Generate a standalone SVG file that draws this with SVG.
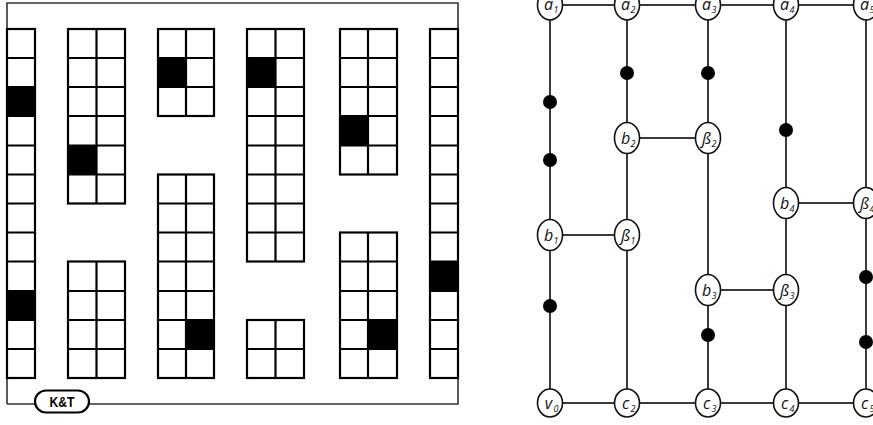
<svg xmlns="http://www.w3.org/2000/svg" width="873" height="425" viewBox="0 0 873 425">
<style>
.frame{fill:none;stroke:#333;stroke-width:1.6}
.blk{fill:none;stroke:#000;stroke-width:2.2}
.ln{fill:none;stroke:#000;stroke-width:2.2}
.k{fill:#000}
.e{stroke:#3a3a3a;stroke-width:2;fill:none}
.nd ellipse{fill:#fff;stroke:#111;stroke-width:1.6}
.lb{font-family:"Open Sans","DejaVu Sans",sans-serif;font-style:italic;font-size:16px;fill:#111;text-anchor:middle}
.sb{font-family:"Open Sans","DejaVu Sans",sans-serif;font-style:italic;font-size:9px;fill:#111;text-anchor:middle}
.dot{fill:#000}
</style>
<rect width="873" height="425" fill="#fff"/>
<g id="frame">
<path class="frame" d="M7,404 V3 H458 V404 H7"/>
</g>
<g id="block1">
<rect class="k" x="7" y="87" width="28" height="29"/>
<rect class="k" x="7" y="291" width="28" height="29"/>
<rect class="blk" x="7" y="29" width="28" height="349"/>
<path class="ln" d="M7,58H35M7,87H35M7,116H35M7,145.5H35M7,174.5H35M7,203.5H35M7,232.5H35M7,261.5H35M7,291H35M7,320H35M7,349H35"/>
</g>
<g id="block2a">
<rect class="k" x="68" y="145.5" width="28.5" height="29"/>
<rect class="blk" x="68" y="29" width="57" height="174.5"/>
<path class="ln" d="M96.5,29V203.5M68,58H125M68,87H125M68,116H125M68,145.5H125M68,174.5H125"/>
</g>
<g id="block2b">
<rect class="blk" x="68" y="261.5" width="57" height="116.5"/>
<path class="ln" d="M96.5,261.5V378M68,291H125M68,320H125M68,349H125"/>
</g>
<g id="block3a">
<rect class="k" x="158" y="58" width="28" height="29"/>
<rect class="blk" x="158" y="29" width="56" height="87"/>
<path class="ln" d="M186,29V116M158,58H214M158,87H214"/>
</g>
<g id="block3b">
<rect class="k" x="186" y="320" width="28" height="29"/>
<rect class="blk" x="158" y="174.5" width="56" height="203.5"/>
<path class="ln" d="M186,174.5V378M158,203.5H214M158,232.5H214M158,261.5H214M158,291H214M158,320H214M158,349H214"/>
</g>
<g id="block4a">
<rect class="k" x="247" y="58" width="28.5" height="29"/>
<rect class="blk" x="247" y="29" width="57" height="232.5"/>
<path class="ln" d="M275.5,29V261.5M247,58H304M247,87H304M247,116H304M247,145.5H304M247,174.5H304M247,203.5H304M247,232.5H304"/>
</g>
<g id="block4b">
<rect class="blk" x="247" y="320" width="57" height="58"/>
<path class="ln" d="M275.5,320V378M247,349H304"/>
</g>
<g id="block5a">
<rect class="k" x="340" y="116" width="28" height="29.5"/>
<rect class="blk" x="340" y="29" width="57" height="145.5"/>
<path class="ln" d="M368,29V174.5M340,58H397M340,87H397M340,116H397M340,145.5H397"/>
</g>
<g id="block5b">
<rect class="k" x="368" y="320" width="29" height="29"/>
<rect class="blk" x="340" y="232.5" width="57" height="145.5"/>
<path class="ln" d="M368,232.5V378M340,261.5H397M340,291H397M340,320H397M340,349H397"/>
</g>
<g id="block6">
<rect class="k" x="430" y="261.5" width="28" height="29.5"/>
<rect class="blk" x="430" y="29" width="28" height="349"/>
<path class="ln" d="M430,58H458M430,87H458M430,116H458M430,145.5H458M430,174.5H458M430,203.5H458M430,232.5H458M430,261.5H458M430,291H458M430,320H458M430,349H458"/>
</g>
<g id="kt">
<rect x="35" y="390.5" width="54" height="22" rx="11" fill="#fff" stroke="#000" stroke-width="2.2"/>
<text x="62" y="406.5" font-family="Liberation Sans, Arial, sans-serif" font-weight="bold" font-size="14" text-anchor="middle" textLength="25" lengthAdjust="spacingAndGlyphs">K&amp;T</text>
</g>
<g id="connectors">
<path class="e" d="M550,5H866"/>
<path class="e" d="M550,403H866"/>
<path class="e" d="M550,5V403"/>
<path class="e" d="M627,5V403"/>
<path class="e" d="M708,5V403"/>
<path class="e" d="M786,5V403"/>
<path class="e" d="M866,5V403"/>
<path class="e" d="M550,235H627"/>
<path class="e" d="M627,138H708"/>
<path class="e" d="M786,203H866"/>
<path class="e" d="M708,290H786"/>
</g>
<g id="dot1"><circle class="dot" cx="550" cy="102" r="7"/></g>
<g id="dot2"><circle class="dot" cx="550" cy="160" r="7"/></g>
<g id="dot3"><circle class="dot" cx="550" cy="306" r="7"/></g>
<g id="dot4"><circle class="dot" cx="627" cy="73" r="7"/></g>
<g id="dot5"><circle class="dot" cx="708" cy="73" r="7"/></g>
<g id="dot6"><circle class="dot" cx="708" cy="335" r="7"/></g>
<g id="dot7"><circle class="dot" cx="786" cy="130" r="7"/></g>
<g id="dot8"><circle class="dot" cx="866" cy="277" r="7"/></g>
<g id="dot9"><circle class="dot" cx="866" cy="342" r="7"/></g>
<g id="a1" class="nd"><ellipse cx="550" cy="5" rx="12.5" ry="15"/><text class="lb" x="548.5" y="10">a</text><text class="sb" x="556" y="13">1</text></g>
<g id="a2" class="nd"><ellipse cx="627" cy="5" rx="12.5" ry="15"/><text class="lb" x="625.5" y="10">a</text><text class="sb" x="633" y="13">2</text></g>
<g id="a3" class="nd"><ellipse cx="708" cy="5" rx="12.5" ry="15"/><text class="lb" x="706.5" y="10">a</text><text class="sb" x="714" y="13">3</text></g>
<g id="a4" class="nd"><ellipse cx="786" cy="5" rx="12.5" ry="15"/><text class="lb" x="784.5" y="10">a</text><text class="sb" x="792" y="13">4</text></g>
<g id="a5" class="nd"><ellipse cx="866" cy="5" rx="12.5" ry="15"/><text class="lb" x="864.5" y="10">a</text><text class="sb" x="872" y="13">5</text></g>
<g id="b1" class="nd"><ellipse cx="550" cy="235" rx="12.5" ry="15.5"/><text class="lb" x="548.5" y="240.5">b</text><text class="sb" x="556" y="244">1</text></g>
<g id="B1" class="nd"><ellipse cx="627" cy="235" rx="12.5" ry="15.5"/><text class="lb" x="625.5" y="240.5">ß</text><text class="sb" x="633" y="244">1</text></g>
<g id="b2" class="nd"><ellipse cx="627" cy="138" rx="12.5" ry="15.5"/><text class="lb" x="625.5" y="143.5">b</text><text class="sb" x="633" y="147">2</text></g>
<g id="B2" class="nd"><ellipse cx="708" cy="138" rx="12.5" ry="15.5"/><text class="lb" x="706.5" y="143.5">ß</text><text class="sb" x="714" y="147">2</text></g>
<g id="b3" class="nd"><ellipse cx="708" cy="290" rx="12.5" ry="15.5"/><text class="lb" x="706.5" y="295.5">b</text><text class="sb" x="714" y="299">3</text></g>
<g id="B3" class="nd"><ellipse cx="786" cy="290" rx="12.5" ry="15.5"/><text class="lb" x="784.5" y="295.5">ß</text><text class="sb" x="792" y="299">3</text></g>
<g id="b4" class="nd"><ellipse cx="786" cy="203" rx="12.5" ry="15.5"/><text class="lb" x="784.5" y="208.5">b</text><text class="sb" x="792" y="212">4</text></g>
<g id="B4" class="nd"><ellipse cx="866" cy="203" rx="12.5" ry="15.5"/><text class="lb" x="864.5" y="208.5">ß</text><text class="sb" x="872" y="212">4</text></g>
<g id="v0" class="nd"><ellipse cx="550" cy="403" rx="12.5" ry="14"/><text class="lb" x="548.5" y="408.5">v</text><text class="sb" x="556" y="412">0</text></g>
<g id="c2" class="nd"><ellipse cx="627" cy="403" rx="12.5" ry="14"/><text class="lb" x="625.5" y="408.5">c</text><text class="sb" x="633" y="412">2</text></g>
<g id="c3" class="nd"><ellipse cx="708" cy="403" rx="12.5" ry="14"/><text class="lb" x="706.5" y="408.5">c</text><text class="sb" x="714" y="412">3</text></g>
<g id="c4" class="nd"><ellipse cx="786" cy="403" rx="12.5" ry="14"/><text class="lb" x="784.5" y="408.5">c</text><text class="sb" x="792" y="412">4</text></g>
<g id="c5" class="nd"><ellipse cx="866" cy="403" rx="12.5" ry="14"/><text class="lb" x="864.5" y="408.5">c</text><text class="sb" x="872" y="412">5</text></g>
</svg>
